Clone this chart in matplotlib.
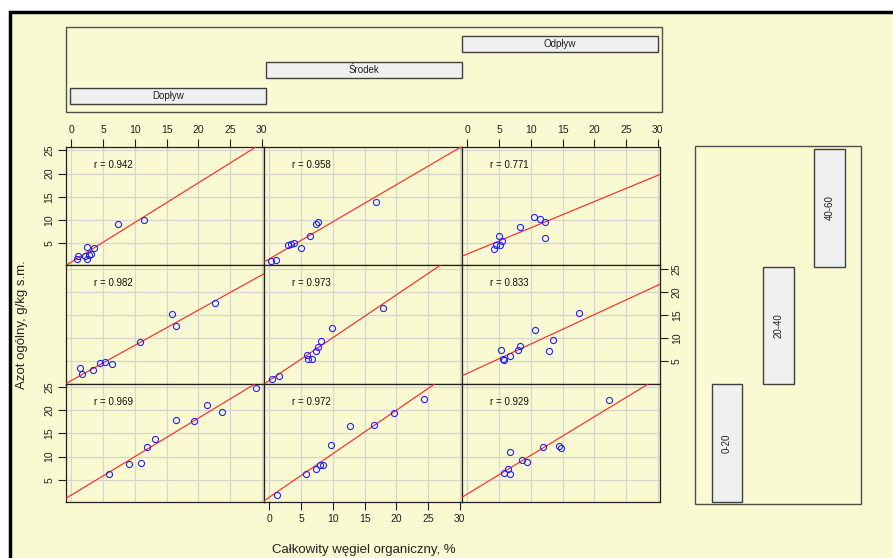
import matplotlib
matplotlib.use('Agg')
import matplotlib.pyplot as plt
from matplotlib.patches import Rectangle

plt.rcParams['font.family'] = ['Liberation Sans', 'DejaVu Sans']

# ---------------- data ----------------
locations = ['Dopływ', 'Środek', 'Odpływ']          # columns
depths = ['40-60', '20-40', '0-20']                   # rows, top to bottom

# Całkowity węgiel organiczny (x) and Azot ogólny (y), per depth, per location
x_40_60 = [[0.84, 1.1, 2.1, 2.4, 2.5, 2.8, 3.15, 3.6, 7.3, 11.5],
           [0.31, 0.99, 2.97, 3.44, 3.8, 4.95, 6.46, 7.4, 7.66, 16.77],
           [4.26, 4.53, 4.95, 5.1, 5.47, 8.26, 10.47, 11.42, 12.2, 12.2]]
y_40_60 = [[1.57, 2.3, 2.3, 1.6, 4.1, 2.5, 2.6, 3.9, 9.1, 9.9],
           [1.14, 1.29, 4.57, 4.86, 5.07, 4.0, 6.43, 9.07, 9.5, 13.86],
           [3.79, 4.64, 6.57, 4.5, 5.43, 8.43, 10.57, 10.21, 9.5, 6.07]]

x_20_40 = [[1.37, 1.63, 3.47, 4.57, 5.36, 6.46, 10.88, 15.92, 16.5, 22.6],
           [0.47, 1.56, 5.89, 6.1, 6.72, 7.34, 7.66, 8.18, 9.84, 17.92],
           [5.32, 5.58, 5.84, 6.74, 7.95, 8.26, 10.68, 12.79, 13.47, 17.58]]
y_20_40 = [[3.5, 2.29, 3.14, 4.64, 4.86, 4.43, 9.14, 15.29, 12.57, 17.71],
           [1.21, 1.79, 6.36, 5.57, 5.57, 7.29, 8.21, 9.43, 12.21, 16.43],
           [7.5, 5.57, 5.36, 6.14, 7.5, 8.29, 11.71, 7.14, 9.64, 15.5]]

x_0_20 = [[5.94, 9.09, 11.04, 11.98, 13.24, 16.55, 19.39, 21.33, 23.8, 29.16],
          [1.25, 5.78, 7.4, 7.97, 8.49, 9.74, 12.71, 16.56, 19.58, 24.43],
          [5.84, 6.32, 6.74, 6.63, 8.63, 9.37, 11.84, 14.42, 14.74, 22.26]]
y_0_20 = [[6.13, 8.4, 8.6, 12.0, 13.87, 17.98, 17.77, 21.03, 19.54, 24.79],
          [1.6, 6.13, 7.41, 8.19, 8.19, 12.52, 16.49, 16.84, 19.33, 22.52],
          [6.49, 7.41, 6.28, 11.03, 9.18, 8.76, 12.02, 12.38, 11.95, 22.31]]

# regression lines: intercept, slope
intercepts = [[0.91, 1.59, 2.64],
              [0.885, 0.89, 2.42],
              [1.70, 1.24, 1.93]]
slopes = [[0.854, 0.80, 0.566],
          [0.759, 0.923, 0.634],
          [0.829, 0.938, 0.833]]
r_values = [['0.942', '0.958', '0.771'],
            ['0.982', '0.973', '0.833'],
            ['0.969', '0.972', '0.929']]

x_ticks = [0, 5, 10, 15, 20, 25, 30]
y_ticks = [5, 10, 15, 20, 25]

xs = [x_40_60, x_20_40, x_0_20]
ys = [y_40_60, y_20_40, y_0_20]

# ---------------- figure ----------------
W, H = 893, 558
BG = '#FAFAD2'
TICK_FONT = ['Liberation Sans Narrow', 'Liberation Sans', 'DejaVu Sans']
fig = plt.figure(figsize=(W / 100, H / 100), dpi=100, facecolor='white')


def fx(px):
    return px / W


def fy(py):
    return 1 - py / H


# outer frame (yellow area with black top/left edge)
fig.patches.append(Rectangle((fx(10), -0.2), 1.5, fy(12) + 0.2, transform=fig.transFigure,
                             facecolor=BG, edgecolor='black', lw=2.5, zorder=-10))

def box(x0, y0, x1, y1, **kw):
    fig.patches.append(Rectangle((fx(x0), fy(y1)), fx(x1) - fx(x0), fy(y0) - fy(y1),
                                 transform=fig.transFigure, **kw))

# top strip box (locations)
box(66, 27, 662, 112, facecolor='none', edgecolor='#505050', lw=1.0, zorder=1)
strip_x = [(70, 266), (266, 462), (462, 658)]
strip_y = [(88, 104), (62, 78), (36, 52)]
for i, name in enumerate(locations):
    (a, b), (c, d) = strip_x[i], strip_y[i]
    box(a, c, b, d, facecolor='#F0F0F0', edgecolor='#404040', lw=1.0, zorder=2)
    fig.text(fx((a + b) / 2), fy((c + d) / 2), name, ha='center', va='center',
             fontsize=7, color='#202020', zorder=3)

# right strip box (depths)
box(695, 146, 861, 504, facecolor='none', edgecolor='#505050', lw=1.0, zorder=1)
dstrip_x = {'0-20': (712, 742), '20-40': (763, 794), '40-60': (814, 845)}
dstrip_y = {'0-20': (384, 502), '20-40': (267, 384), '40-60': (149, 267)}
for name in depths:
    (a, b), (c, d) = dstrip_x[name], dstrip_y[name]
    box(a, c, b, d, facecolor='#F0F0F0', edgecolor='#404040', lw=1.0, zorder=2)
    fig.text(fx((a + b) / 2), fy((c + d) / 2), name, ha='center', va='center',
             fontsize=7, rotation=90, color='#202020', zorder=3)

# panels
PL, PT, PW, PH = 66, 147, 198, 118.33
for r in range(3):
    for c in range(3):
        x0 = PL + PW * c
        y0 = PT + PH * r
        ax = fig.add_axes([fx(x0), fy(y0 + PH), PW / W, PH / H])
        ax.set_zorder(1)
        ax.set_facecolor(BG)
        ax.set_xlim(-0.86, 30.36)
        ax.set_ylim(0.19, 25.74)
        ax.set_xticks(x_ticks)
        ax.set_yticks(y_ticks)
        ax.grid(True, color='#D6D6D0', lw=0.9)
        ax.set_axisbelow(True)
        for s in ax.spines.values():
            s.set_color('#202020')
            s.set_linewidth(0.9)
        ax.axline((0, intercepts[r][c]), slope=slopes[r][c], color='#FF2020', lw=0.8, zorder=3)
        ax.plot(xs[r][c], ys[r][c], 'o', mfc='none', mec='#2020FF', ms=4.4, mew=0.8, zorder=4)
        ax.text(3.5, 21.85, 'r = ' + r_values[r][c], ha='left', va='center', fontsize=7,
                color='#101010')
        top = (r == 0 and c in (0, 2))
        bottom = (r == 2 and c == 1)
        left = (c == 0 and r in (0, 2))
        right = (c == 2 and r == 1)
        ax.tick_params(axis='x', top=top, labeltop=top, bottom=bottom, labelbottom=bottom,
                       direction='out', length=6, width=0.8, labelsize=7.5, pad=2.5,
                       colors='#202020')
        ax.tick_params(axis='y', left=left, labelleft=left, right=right, labelright=right,
                       direction='out', length=6, width=0.8, labelsize=7.5, pad=2.5,
                       labelrotation=90, colors='#202020')
        for lab in ax.get_yticklabels():
            lab.set_va('center')
            lab.set_fontfamily(TICK_FONT)
        for lab in ax.get_xticklabels():
            lab.set_fontfamily(TICK_FONT)

fig.text(fx(363.5), fy(550), 'Całkowity węgiel organiczny, %', ha='center', va='center',
         fontsize=9.5, color='#202020')
fig.text(fx(22), fy(324.5), 'Azot ogólny, g/kg s.m.', ha='center', va='center',
         fontsize=9.5, rotation=90, color='#202020')

fig.savefig('out.png', dpi=100, facecolor='white')
